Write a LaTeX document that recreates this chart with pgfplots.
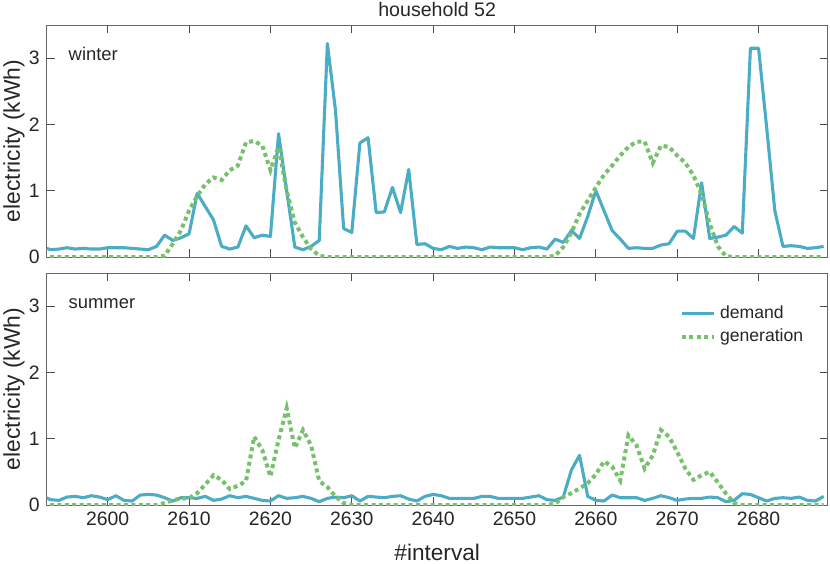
\documentclass[border=0pt]{standalone}
\usepackage{pgfplots}
\usepackage{pgfplotstable}
\pgfplotsset{compat=1.18}
\usepackage{fontspec}
\setmainfont{Liberation Sans}
\definecolor{dem}{RGB}{75,172,198}
\definecolor{gen}{RGB}{119,193,108}
\definecolor{txt}{RGB}{38,38,38}

\pgfplotstableread{
x d g
2592 0.15 0
2593 0.11 0
2594 0.12 0
2595 0.14 0
2596 0.12 0
2597 0.13 0
2598 0.12 0
2599 0.12 0
2600 0.14 0
2601 0.14 0
2602 0.14 0
2603 0.13 0
2604 0.12 0
2605 0.11 0
2606 0.16 0
2607 0.33 0.02
2608 0.25 0.2
2609 0.29 0.4
2610 0.35 0.7
2611 0.96 0.92
2612 0.76 1.1
2613 0.56 1.2
2614 0.16 1.16
2615 0.12 1.31
2616 0.15 1.38
2617 0.47 1.73
2618 0.29 1.75
2619 0.33 1.68
2620 0.31 1.31
2621 1.86 1.66
2622 1.0 1.0
2623 0.15 0.52
2624 0.11 0.3
2625 0.16 0.12
2626 0.25 0.02
2627 3.22 0
2628 2.21 0
2629 0.43 0
2630 0.37 0
2631 1.72 0
2632 1.80 0
2633 0.67 0
2634 0.68 0
2635 1.05 0
2636 0.67 0
2637 1.32 0
2638 0.19 0
2639 0.20 0
2640 0.13 0
2641 0.11 0
2642 0.16 0
2643 0.13 0
2644 0.15 0
2645 0.14 0
2646 0.11 0
2647 0.15 0
2648 0.14 0
2649 0.14 0
2650 0.14 0
2651 0.11 0
2652 0.14 0
2653 0.15 0
2654 0.12 0
2655 0.27 0.02
2656 0.22 0.15
2657 0.40 0.37
2658 0.28 0.65
2659 0.61 0.85
2660 1.0 1.05
2661 0.70 1.24
2662 0.40 1.38
2663 0.27 1.53
2664 0.13 1.66
2665 0.14 1.74
2666 0.13 1.74
2667 0.13 1.42
2668 0.18 1.68
2669 0.20 1.66
2670 0.39 1.53
2671 0.39 1.42
2672 0.28 1.23
2673 1.12 0.95
2674 0.28 0.5
2675 0.30 0.16
2676 0.33 0.01
2677 0.46 0
2678 0.36 0
2679 3.15 0
2680 3.15 0
2681 1.95 0
2682 0.70 0
2683 0.16 0
2684 0.17 0
2685 0.16 0
2686 0.13 0
2687 0.14 0
2688 0.16 0
}\winter

\pgfplotstableread{
x d g
2592 0.13 0
2593 0.08 0
2594 0.07 0
2595 0.12 0
2596 0.13 0
2597 0.11 0
2598 0.14 0
2599 0.12 0
2600 0.08 0
2601 0.14 0
2602 0.07 0
2603 0.06 0
2604 0.15 0
2605 0.16 0
2606 0.15 0
2607 0.11 0.03
2608 0.06 0.07
2609 0.11 0.10
2610 0.11 0.10
2611 0.10 0.18
2612 0.13 0.31
2613 0.07 0.45
2614 0.09 0.38
2615 0.14 0.24
2616 0.11 0.29
2617 0.13 0.36
2618 0.10 1.03
2619 0.07 0.83
2620 0.06 0.43
2621 0.14 0.98
2622 0.10 1.46
2623 0.11 0.86
2624 0.13 1.13
2625 0.10 0.90
2626 0.05 0.36
2627 0.10 0.27
2628 0.12 0.13
2629 0.11 0.03
2630 0.14 0
2631 0.06 0
2632 0.13 0
2633 0.12 0
2634 0.11 0
2635 0.13 0
2636 0.14 0
2637 0.09 0
2638 0.06 0
2639 0.13 0
2640 0.16 0
2641 0.14 0
2642 0.10 0
2643 0.10 0
2644 0.10 0
2645 0.10 0
2646 0.13 0
2647 0.13 0
2648 0.10 0
2649 0.10 0
2650 0.10 0
2651 0.10 0
2652 0.12 0
2653 0.14 0
2654 0.08 0
2655 0.07 0.02
2656 0.12 0.12
2657 0.53 0.18
2658 0.75 0.25
2659 0.13 0.33
2660 0.07 0.46
2661 0.06 0.66
2662 0.15 0.58
2663 0.11 0.37
2664 0.11 1.05
2665 0.11 0.90
2666 0.07 0.55
2667 0.10 0.75
2668 0.14 1.13
2669 0.11 1.03
2670 0.07 0.80
2671 0.09 0.55
2672 0.10 0.38
2673 0.10 0.45
2674 0.12 0.50
2675 0.11 0.34
2676 0.05 0.17
2677 0.07 0.03
2678 0.17 0
2679 0.16 0
2680 0.11 0
2681 0.06 0
2682 0.10 0
2683 0.11 0
2684 0.10 0
2685 0.12 0
2686 0.07 0
2687 0.06 0
2688 0.13 0
}\summer

\pgfplotsset{
  myax/.style={
    width=390.5pt, height=116pt, scale only axis,
    xmin=2592.5, xmax=2688.5, ymin=0, ymax=3.5,
    ytick={0,1,2,3}, xtick={2600,2610,...,2680},
    tick align=inside, major tick length=4pt,
    axis line style={black!60, line width=0.5pt},
    tick style={black!70, line width=0.5pt},
    font=\fontsize{9.7}{11.6}\selectfont,
    every tick label/.append style={text=txt},
    /pgf/number format/assume math mode=true,
    /pgf/number format/1000 sep={},
    ylabel={electricity (kWh)},
    every axis y label/.style={at={(axis description cs:-0.042,0.5)}, anchor=center, rotate=90, text=txt, font=\fontsize{11.4}{13.6}\selectfont},
    legend image code/.code={\draw[#1] (0pt,0pt) -- (16pt,0pt);},
  },
  demstyle/.style={color=dem, line width=1.55pt, line join=round},
  genstyle/.style={color=gen, line width=2pt, dash pattern=on 2pt off 1.7pt},
}

\begin{document}
\begin{tikzpicture}
\useasboundingbox (-23.35pt,12.5pt) rectangle (391.65pt,-269pt);
\begin{axis}[myax, at={(0pt,0pt)}, anchor=north west,
  xticklabels={},
  title={household 52},
  every axis title/.style={at={(axis description cs:0.5,1)}, anchor=base, yshift=4.5pt, text=txt, font=\fontsize{9.8}{11.8}\selectfont},
]
\addplot[demstyle] table[x=x,y=d] {\winter};
\addplot[genstyle] table[x=x,y=g] {\winter};
\node[anchor=base west, inner sep=0pt, text=txt, font=\fontsize{9.2}{11}\selectfont] at (rel axis cs:0.0277,0.849) {winter};
\end{axis}
\begin{axis}[myax, at={(0pt,-124pt)}, anchor=north west,
  xlabel={\#interval},
  every axis x label/.style={at={(axis description cs:0.5,-0.2026)}, anchor=center, text=txt, font=\fontsize{11.3}{13.5}\selectfont},
  legend style={at={(axis description cs:0.982,0.897)}, anchor=north east, draw=none, fill=none, text=txt, row sep=0pt, font=\fontsize{8.8}{10.5}\selectfont},
  legend cell align=left,
]
\addplot[demstyle] table[x=x,y=d] {\summer};
\addlegendentry{demand}
\addplot[genstyle] table[x=x,y=g] {\summer};
\addlegendentry{generation}
\node[anchor=base west, inner sep=0pt, text=txt, font=\fontsize{9.2}{11}\selectfont] at (rel axis cs:0.0277,0.849) {summer};
\end{axis}
\end{tikzpicture}
\end{document}
